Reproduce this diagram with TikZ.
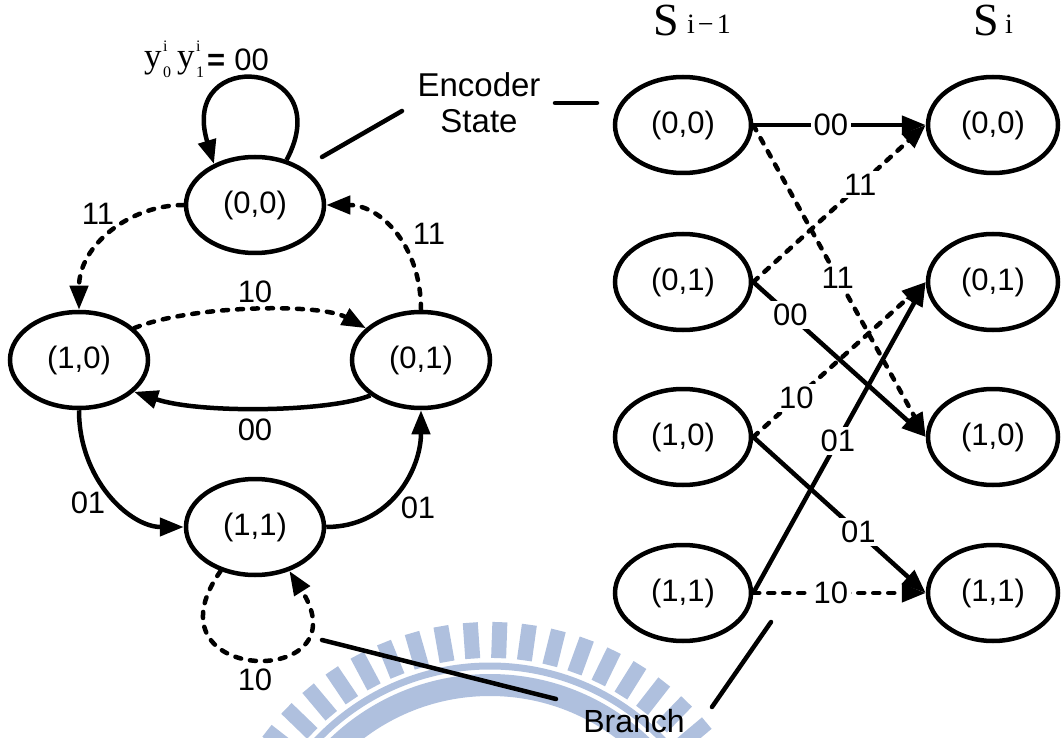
\documentclass[tikz,border=0pt]{standalone}
\usepackage{fontspec}
\setmainfont{Liberation Sans}
\newfontfamily\tmsfont{Liberation Serif}
\usetikzlibrary{shapes.geometric,arrows.meta}
\definecolor{wmblue}{RGB}{175,192,222}
\begin{document}
\begin{tikzpicture}[x=1pt,y=-1pt,
  state/.style={ellipse,draw,line width=4.5pt,minimum width=138pt,minimum height=96pt,
    inner sep=0pt,font=\fontsize{31}{31}\selectfont},
  tstate/.style={state,minimum width=136pt},
  rstate/.style={state,minimum width=130pt},
  conn/.style={line width=4.5pt,-{Triangle[length=24pt,width=18pt]}},
  dconn/.style={conn,dash pattern=on 6pt off 9pt,line cap=round},
  lbl/.style={font=\fontsize{31}{31}\selectfont,inner sep=1pt},
  wlbl/.style={lbl,fill=white,inner sep=3pt},
  pointer/.style={line width=4.5pt,line cap=round},
]
\useasboundingbox (0,0) rectangle (1061,738);

% emblem in the background
\begin{scope}
  \clip (0,0) rectangle (1061,738);
  \foreach \a in {-64,-58,...,68}
    \draw[wmblue,line width=15pt] ({490+247*sin(\a)},{905-247*cos(\a)}) -- ({490+283*sin(\a)},{905-283*cos(\a)});
  \draw[wmblue,line width=7pt] (490,905) circle[radius=239];
  \draw[wmblue,line width=22pt] (490,905) circle[radius=220];
\end{scope}

% state diagram
\node[state] (a00) at (255,205) {(0,0)};
\node[state] (a10) at (79,360) {(1,0)};
\node[state] (a01) at (421,360) {(0,1)};
\node[state] (a11) at (255,527) {(1,1)};

\draw[conn] (a00.55) .. controls (340,60) and (178,45) .. (a00.135);
\draw[dconn] (a00.west) .. controls (130,205) and (79,245) .. (a10.north);
\draw[dconn] (a01.north) .. controls (421,245) and (380,205) .. (a00.east);
\draw[dconn] (a10.30) .. controls (190,305) and (320,303) .. (a01.150);
\draw[conn] (a01.215) .. controls (330,412) and (200,414) .. (a10.330);
\draw[conn] (a10.south) .. controls (79,480) and (130,527) .. (a11.west);
\draw[conn] (a11.east) .. controls (390,527) and (421,470) .. (a01.south);
\draw[dconn] (a11.232) .. controls (140,685) and (365,690) .. (a11.308);

\node[lbl] (l11a) at (98,214) {11};
\node[lbl] (l11b) at (429,234) {11};
\node[lbl] (l10a) at (255,292) {10};
\node[lbl] (l00a) at (255,430) {00};
\node[lbl] (l01a) at (88,503) {01};
\node[lbl] (l01b) at (418,508) {01};
\node[lbl] (l10b) at (255,680) {10};

% output label of the self loop
\node[anchor=base west,inner sep=0pt] (ylab) at (144,68) {\tmsfont
  {\fontsize{35}{35}\selectfont y}\kern1.5pt\rlap{\raisebox{16pt}{\fontsize{16}{16}\selectfont i}}\raisebox{-10pt}{\fontsize{16}{16}\selectfont 0}\hspace{6pt}%
  {\fontsize{35}{35}\selectfont y}\kern1.5pt\rlap{\raisebox{16pt}{\fontsize{16}{16}\selectfont i}}\raisebox{-10pt}{\fontsize{16}{16}\selectfont 1}};
\node[anchor=base west,inner sep=0pt,font=\fontsize{31}{31}\selectfont] (eqlab) at (207,71) {\textbf{=}\hspace{9pt}00};

% annotations
\node[anchor=base,inner sep=0pt,font=\fontsize{33}{33}\selectfont] (enc1) at (479,97) {Encoder};
\node[anchor=base,inner sep=0pt,font=\fontsize{33}{33}\selectfont] (enc2) at (479,133) {State};
\coordinate (e1) at (322,157);
\coordinate (e2) at (402,111);
\coordinate (e3) at (555,103);
\coordinate (e4) at (597,103);
\draw[pointer] (e1) -- (e2);
\draw[pointer] (e3) -- (e4);

\node[anchor=base,inner sep=0pt,font=\fontsize{32}{32}\selectfont] (br) at (634,732) {Branch};
\coordinate (b1) at (322,640);
\coordinate (b2) at (556,699);
\coordinate (b3) at (771,622);
\coordinate (b4) at (712,707);
\draw[pointer] (b1) -- (b2);
\draw[pointer] (b3) -- (b4);

% trellis section
\node[anchor=base west,inner sep=0pt,font=\tmsfont\fontsize{46}{46}\selectfont] (sp) at (653,36) {S};
\node[anchor=base west,inner sep=0pt,font=\tmsfont\fontsize{28}{28}\selectfont] (spsub) at (687,34) {i\hspace{3pt}−\hspace{3pt}1};
\node[anchor=base west,inner sep=0pt,font=\tmsfont\fontsize{46}{46}\selectfont] (sc) at (973,36) {S};
\node[anchor=base west,inner sep=0pt,font=\tmsfont\fontsize{28}{28}\selectfont] (scsub) at (1005,34) {i};

\node[tstate] (p00) at (683,125) {(0,0)};
\node[tstate] (p01) at (683,282) {(0,1)};
\node[tstate] (p10) at (683,437) {(1,0)};
\node[tstate] (p11) at (683,593) {(1,1)};
\node[rstate] (q00) at (993,125) {(0,0)};
\node[rstate] (q01) at (993,282) {(0,1)};
\node[rstate] (q10) at (993,437) {(1,0)};
\node[rstate] (q11) at (993,593) {(1,1)};

\draw[conn] (p00.east) -- node[wlbl,pos=0.45] (t1) {00} (q00.west);
\draw[dconn] (p00.east) -- node[wlbl,pos=0.49] (t2) {11} (q10.west);
\draw[dconn] (p01.east) -- node[wlbl,pos=0.62] (t3) {11} (q00.west);
\draw[conn] (p01.east) -- node[wlbl,pos=0.215] (t4) {00} (q10.west);
\draw[dconn] (p10.east) -- node[wlbl,pos=0.25] (t5) {10} (q01.west);
\draw[conn] (p10.east) -- node[wlbl,pos=0.61] (t6) {01} (q11.west);
\draw[conn] (p11.east) -- node[wlbl,pos=0.49] (t7) {01} (q01.west);
\draw[dconn] (p11.east) -- node[wlbl,pos=0.45] (t8) {10} (q11.west);
\end{tikzpicture}
\end{document}
